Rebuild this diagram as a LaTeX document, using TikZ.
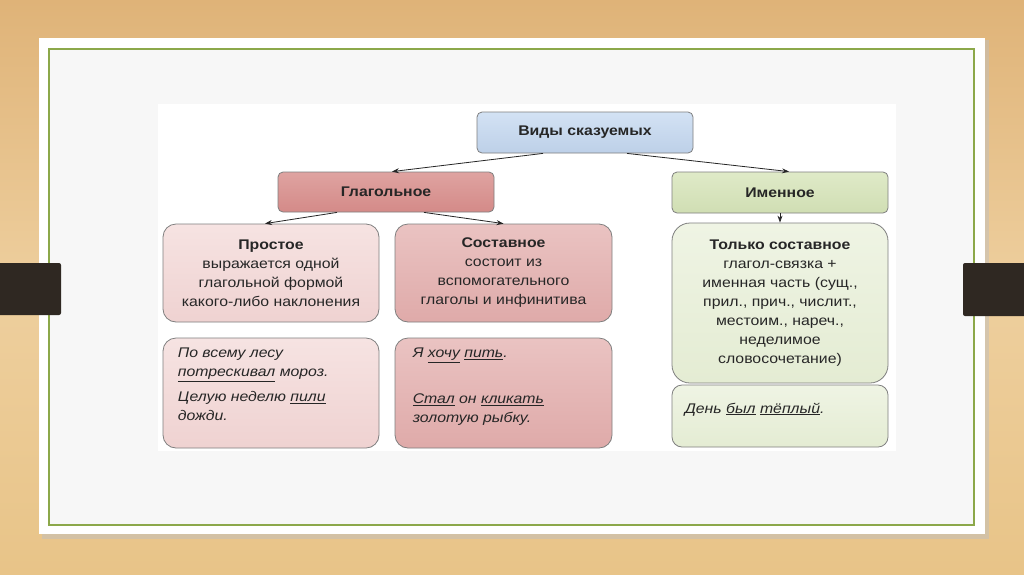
\documentclass[tikz,border=0pt]{standalone}
\usepackage{fontspec}
\setmainfont[FakeStretch=1.13]{Liberation Sans}
\usetikzlibrary{arrows.meta,calc}
\definecolor{woodA}{HTML}{DFB378}
\definecolor{woodB}{HTML}{EECF9E}
\definecolor{woodC}{HTML}{E8C488}
\definecolor{panel}{HTML}{F7F7F7}
\definecolor{frameg}{HTML}{8CA84A}
\definecolor{barc}{HTML}{2F2822}
\definecolor{boxline}{HTML}{7F7F7F}
\definecolor{txt}{HTML}{262626}
\definecolor{blueA}{HTML}{D3E2F4}
\definecolor{blueB}{HTML}{BDD0E8}
\definecolor{redA}{HTML}{DFA3A1}
\definecolor{redB}{HTML}{D48A88}
\definecolor{pinkA}{HTML}{F6E3E2}
\definecolor{pinkB}{HTML}{EFD2D1}
\definecolor{roseA}{HTML}{EAC3C2}
\definecolor{roseB}{HTML}{DFAAA9}
\definecolor{greenA}{HTML}{DFEAC8}
\definecolor{greenB}{HTML}{D0DEB3}
\definecolor{lgreenA}{HTML}{EFF4E4}
\definecolor{lgreenB}{HTML}{E4ECD3}
\newcommand\predu[1]{\underline{#1}}
\tikzset{
  box/.style={draw=boxline, line width=0.8pt, text=txt, align=center,
    font=\fontsize{14}{19}\selectfont, inner sep=0pt},
  head/.style={box, rounded corners=5pt, font=\bfseries\fontsize{14}{19}\selectfont},
  big/.style={box, rounded corners=13pt},
  exbox/.style={box, rounded corners=13pt},
  extext/.style={text=txt, align=left, anchor=north west, inner sep=0pt,
    font=\itshape\fontsize{14}{19}\selectfont},
  arr/.style={draw=black!85, line width=0.8pt, -{Stealth[length=7pt,width=5pt]}}
}
\begin{document}
\begin{tikzpicture}[x=1pt,y=-1pt]
\useasboundingbox (0,0) rectangle (1024,574);
% wood background
\shade[top color=woodA, bottom color=woodC, middle color=woodB] (0,0) rectangle (1024,574);
% panel shadow
\fill[black!25, opacity=0.5] (42,40) rectangle (989,539);
\fill[white] (39,38) rectangle (985,534);
\fill[panel] (49,49) rectangle (974,525);
\draw[frameg, line width=1.3pt] (49,49) rectangle (974,525);
% side bars
\fill[barc, rounded corners=2pt] (-5,263) rectangle (61,315);
\fill[barc, rounded corners=2pt] (963,263) rectangle (1030,316);
% inner white area
\fill[white] (158,104) rectangle (896,451);
% nodes
\node[head, top color=blueA, bottom color=blueB, minimum width=216pt, minimum height=41pt] (top) at (585,132.5) {Виды сказуемых};
\node[head, top color=redA, bottom color=redB, minimum width=216pt, minimum height=40pt] (gl) at (386,192) {Глагольное};
\node[head, top color=greenA, bottom color=greenB, minimum width=216pt, minimum height=41pt] (im) at (780,192.5) {Именное};
\node[big, top color=pinkA, bottom color=pinkB, minimum width=216pt, minimum height=98pt] (pr) at (271,273)
  {\textbf{Простое}\\выражается одной\\глагольной формой\\какого-либо наклонения};
\node[big, top color=roseA, bottom color=roseB, minimum width=217pt, minimum height=98pt] (so) at (503.5,273)
  {\textbf{Составное}\\состоит из\\вспомогательного\\глаголы и инфинитива};
\node[big, rounded corners=18pt, top color=lgreenA, bottom color=lgreenB, minimum width=216pt, minimum height=160pt] (ts) at (780,303)
  {\textbf{Только составное}\\глагол-связка +\\именная часть (сущ.,\\прил., прич., числит.,\\местоим., нареч.,\\неделимое\\словосочетание)};
\node[exbox, top color=pinkA, bottom color=pinkB, minimum width=216pt, minimum height=110pt] (ex1) at (271,393) {};
\node[exbox, top color=roseA, bottom color=roseB, minimum width=217pt, minimum height=110pt] (ex2) at (503.5,393) {};
\node[exbox, rounded corners=10pt, top color=lgreenA, bottom color=lgreenB, minimum width=216pt, minimum height=62pt] (ex3) at (780,416) {};
\node[extext] (t1) at ($(ex1.north west)+(15,10)$)
  {По всему лесу\\\predu{потрескивал} мороз.\\[6pt]Целую неделю \predu{пили}\\дожди.};
\node[extext] (t2) at ($(ex2.north west)+(18,10)$)
  {Я \predu{хочу} \predu{пить}.\\[27pt]\predu{Стал} он \predu{кликать}\\золотую рыбку.};
\node[extext] (t3) at ($(ex3.north west)+(13,18)$)
  {День \predu{был} \predu{тёплый}.};
% connectors
\draw[arr] ([xshift=-42pt]top.south) -- ([xshift=6pt]gl.north);
\draw[arr] ([xshift=42pt]top.south) -- ([xshift=9pt]im.north);
\draw[arr] ([xshift=-49pt]gl.south) -- ([xshift=-6pt]pr.north);
\draw[arr] ([xshift=38pt]gl.south) -- (so.north);
\draw[arr] (im.south) -- (ts.north);
\end{tikzpicture}
\end{document}
